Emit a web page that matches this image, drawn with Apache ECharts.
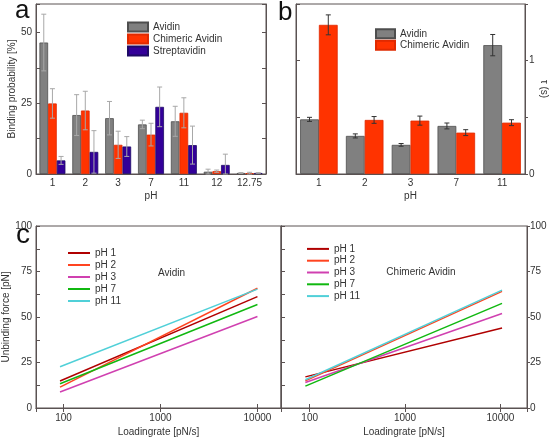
<!DOCTYPE html>
<html><head><meta charset="utf-8">
<script src="https://cdn.jsdelivr.net/npm/echarts@6/dist/echarts.min.js"></script>
<style>html,body{margin:0;padding:0;background:#fff}#c{width:550px;height:441px}</style>
</head><body><div id="c"></div><script>
// ---- Panel a data ----
const catsA = ['1','2','3','7','11','12','12.75'];
const avidinA = [46.4, 20.8, 19.7, 17.5, 18.6, 0.8, 0.35];
const avidinAErr = [10.0, 7.2, 5.9, 1.5, 5.3, 0.9, 0.15];
const chimericA = [24.9, 22.4, 10.3, 13.9, 21.6, 1.0, 0.3];
const chimericAErr = [5.2, 6.8, 4.8, 4.0, 5.3, 0.4, 0.3];
const streptA = [4.8, 7.8, 9.7, 23.7, 10.2, 3.2, 0.35];
const streptAErr = [1.4, 7.5, 3.5, 7.0, 6.7, 3.8, 0.1];
const yTicksA = [0, 25, 50];
// ---- Panel b data ----
const catsB = ['1','2','3','7','11'];
const avidinB = [0.482, 0.336, 0.257, 0.424, 1.137];
const avidinBErr = [0.018, 0.018, 0.012, 0.026, 0.094];
const chimericB = [1.316, 0.477, 0.471, 0.365, 0.453];
const chimericBErr = [0.088, 0.03, 0.04, 0.026, 0.026];
const yTicksB = [0, 1];
// ---- Panel c data ----
const phNames = ['pH 1','pH 2','pH 3','pH 7','pH 11'];
const rateAvidin = [92, 10000];
const forceAvidin = [[14.8, 61.2],[11.5, 65.8],[8.8, 50.3],[13.3, 56.9],[22.7, 65.3]];
const rateChimeric = [90, 10400];
const forceChimeric = [[17.1, 44.0],[14.9, 64.1],[14.0, 51.9],[12.0, 57.5],[15.5, 64.8]];
const xTicksC = [100, 1000, 10000];
const yTicksC = [0, 25, 50, 75, 100];

const frame = '#5a5252', txt = '#333', font = 'Liberation Sans, Arial, sans-serif';
const barColors = ['#808080', '#ff3300', '#330099'];
const barBorders = ['#4e4e4e', '#e02a00', '#1e0a66'];
const lineColors = ['#b00000', '#ff4420', '#d040b0', '#10b810', '#50d0d8'];
const ts = (e) => Object.assign({color: txt, fontFamily: font, fontSize: 10}, e || {});

function errRender(n, idx, gap, color, cap) {
  return function (params, api) {
    const cat = api.value(0), v = api.value(1), e = api.value(2);
    const band = api.size([1, 0])[0];
    const bw = band * (1 - gap) / n;
    const c = api.coord([cat, v]);
    const x = c[0] + (idx - (n - 1) / 2) * bw;
    const t = api.coord([cat, v + e])[1];
    const b = api.coord([cat, Math.max(0, v - e)])[1];
    const st = {stroke: color, lineWidth: 1};
    return {type: 'group', children: [
      {type: 'line', shape: {x1: x, y1: t, x2: x, y2: b}, style: st},
      {type: 'line', shape: {x1: x - cap, y1: t, x2: x + cap, y2: t}, style: st},
      {type: 'line', shape: {x1: x - cap, y1: b, x2: x + cap, y2: b}, style: st}
    ]};
  };
}
const axl = {show: true, lineStyle: {color: frame, width: 1}};
const noSplit = {show: false};

const option = {
  animation: false,
  grid: [
    {left: 36, top: 4, width: 230, height: 170, show: true, borderColor: frame, borderWidth: 1},
    {left: 296, top: 4, width: 231, height: 170, show: true, borderColor: frame, borderWidth: 1},
    {left: 36, top: 226, width: 245, height: 182, show: true, borderColor: frame, borderWidth: 1},
    {left: 281, top: 226, width: 246, height: 182, show: true, borderColor: frame, borderWidth: 1}
  ],
  xAxis: [
    {gridIndex: 0, type: 'category', data: catsA, axisLine: axl, axisTick: {show: false},
     axisLabel: ts({margin: 4}), name: 'pH', nameLocation: 'middle', nameGap: 17, nameTextStyle: ts()},
    {gridIndex: 1, type: 'category', data: catsB, axisLine: axl, axisTick: {show: false},
     axisLabel: ts({margin: 4}), name: 'pH', nameLocation: 'middle', nameGap: 17, nameTextStyle: ts()},
    {gridIndex: 2, type: 'log', logBase: 10, min: 52, max: 17500, axisLine: axl, splitLine: noSplit,
     axisTick: {show: true, inside: true, length: 4, lineStyle: {color: frame}},
     axisLabel: ts({margin: 5, formatter: v => { const r = Math.round(v); return xTicksC.includes(r) ? String(r) : ''; }}),
     name: 'Loadingrate [pN/s]', nameLocation: 'middle', nameGap: 19, nameTextStyle: ts()},
    {gridIndex: 2, type: 'log', logBase: 10, min: 52, max: 17500, position: 'top', axisLine: axl, splitLine: noSplit,
     axisTick: {show: true, inside: true, length: 4, lineStyle: {color: frame}}, axisLabel: {show: false}},
    {gridIndex: 3, type: 'log', logBase: 10, min: 50, max: 19000, axisLine: axl, splitLine: noSplit,
     axisTick: {show: true, inside: true, length: 4, lineStyle: {color: frame}},
     axisLabel: ts({margin: 5, formatter: v => { const r = Math.round(v); return xTicksC.includes(r) ? String(r) : ''; }}),
     name: 'Loadingrate [pN/s]', nameLocation: 'middle', nameGap: 19, nameTextStyle: ts()},
    {gridIndex: 3, type: 'log', logBase: 10, min: 50, max: 19000, position: 'top', axisLine: axl, splitLine: noSplit,
     axisTick: {show: true, inside: true, length: 4, lineStyle: {color: frame}}, axisLabel: {show: false}}
  ],
  yAxis: [
    {gridIndex: 0, type: 'value', min: 0, max: 60, interval: 12.5, position: 'left', axisLine: axl, splitLine: noSplit,
     axisTick: {show: true, inside: true, length: 4, lineStyle: {color: frame}},
     axisLabel: ts({margin: 4, formatter: v => yTicksA.includes(v) ? String(v) : ''}),
     name: 'Binding probability [%]', nameLocation: 'middle', nameGap: 19, nameTextStyle: ts()},
    {gridIndex: 0, type: 'value', min: 0, max: 60, interval: 12.5, position: 'right', axisLine: axl, splitLine: noSplit,
     axisTick: {show: true, inside: true, length: 4, lineStyle: {color: frame}}, axisLabel: {show: false}},
    {gridIndex: 1, type: 'value', min: 0, max: 1.5, interval: 0.5, position: 'left', axisLine: axl, splitLine: noSplit,
     axisTick: {show: true, inside: true, length: 4, lineStyle: {color: frame}}, axisLabel: {show: false}},
    {gridIndex: 1, type: 'value', min: 0, max: 1.5, interval: 0.5, position: 'right', axisLine: axl, splitLine: noSplit,
     axisTick: {show: true, inside: false, length: 3, lineStyle: {color: frame}},
     axisLabel: ts({margin: 4, formatter: v => yTicksB.includes(v) ? String(v) : ''}),
     name: 'τ (s)', nameLocation: 'middle', nameGap: 14, nameRotate: -90, nameTextStyle: ts()},
    {gridIndex: 2, type: 'value', min: 0, max: 100, interval: 12.5, position: 'left', axisLine: axl, splitLine: noSplit,
     axisTick: {show: true, inside: true, length: 4, lineStyle: {color: frame}},
     axisLabel: ts({margin: 4, formatter: v => yTicksC.includes(v) ? String(v) : ''}),
     name: 'Unbinding force [pN]', nameLocation: 'middle', nameGap: 21, nameTextStyle: ts()},
    {gridIndex: 2, type: 'value', min: 0, max: 100, interval: 12.5, position: 'right', axisLine: axl, splitLine: noSplit,
     axisTick: {show: false}, axisLabel: {show: false}},
    {gridIndex: 3, type: 'value', min: 0, max: 100, interval: 12.5, position: 'left', axisLine: axl, splitLine: noSplit,
     axisTick: {show: true, inside: true, length: 4, lineStyle: {color: frame}}, axisLabel: {show: false}},
    {gridIndex: 3, type: 'value', min: 0, max: 100, interval: 25, position: 'right', axisLine: axl, splitLine: noSplit,
     axisTick: {show: true, inside: false, length: 3, lineStyle: {color: frame}},
     axisLabel: ts({margin: 3, formatter: v => yTicksC.includes(v) ? String(v) : ''})}
  ],
  legend: [
    {data: ['Avidin', 'Chimeric Avidin', 'Streptavidin'], orient: 'vertical', left: 127, top: 21, icon: 'rect',
     itemWidth: 20, itemHeight: 9, itemGap: 0, selectedMode: false, padding: 0,
     textStyle: ts({lineHeight: 12, fontSize: 10})},
    {data: ['Avidin', 'Chimeric Avidin'], orient: 'vertical', left: 375, top: 28, icon: 'rect',
     itemWidth: 19, itemHeight: 9, itemGap: 0, selectedMode: false, padding: 0,
     textStyle: ts({lineHeight: 11.5, fontSize: 10})},
    {data: phNames, orient: 'vertical', left: 68, top: 247, icon: 'rect',
     itemWidth: 22, itemHeight: 2, itemGap: 0, selectedMode: false, padding: 0,
     textStyle: ts({lineHeight: 12, fontSize: 10})},
    {data: phNames, orient: 'vertical', left: 307, top: 243, icon: 'rect',
     itemWidth: 22, itemHeight: 2, itemGap: 0, selectedMode: false, padding: 0,
     textStyle: ts({lineHeight: 11.8, fontSize: 10})}
  ],
  graphic: [
    {type: 'text', x: 15, y: 11, style: {text: 'a', fontSize: 26, fontFamily: font, fill: '#111', verticalAlign: 'middle'}},
    {type: 'text', x: 278, y: 12.6, style: {text: 'b', fontSize: 26, fontFamily: font, fill: '#111', verticalAlign: 'middle'}},
    {type: 'text', x: 16, y: 235, style: {text: 'c', fontSize: 28, fontFamily: font, fill: '#111', verticalAlign: 'middle'}},
    {type: 'text', x: 171.5, y: 273, style: {text: 'Avidin', fontSize: 10, fontFamily: font, fill: txt, align: 'center', verticalAlign: 'middle'}},
    {type: 'text', x: 421, y: 272.7, style: {text: 'Chimeric Avidin', fontSize: 10, fontFamily: font, fill: txt, align: 'center', verticalAlign: 'middle'}}
  ],
  series: []
};

// Panel a bars + error bars
[[avidinA, avidinAErr, 'Avidin'], [chimericA, chimericAErr, 'Chimeric Avidin'], [streptA, streptAErr, 'Streptavidin']]
  .forEach(([vals, errs, name], i) => {
    option.series.push({type: 'bar', name, xAxisIndex: 0, yAxisIndex: 0, data: vals,
      barGap: '0%', barCategoryGap: '21%',
      itemStyle: {color: barColors[i], borderColor: barBorders[i], borderWidth: 0.8}});
  });
[[avidinA, avidinAErr], [chimericA, chimericAErr], [streptA, streptAErr]].forEach(([vals, errs], i) => {
  option.series.push({type: 'custom', xAxisIndex: 0, yAxisIndex: 0, z: 5,
    renderItem: errRender(3, i, 0.21, '#a8a8a8', 2.5),
    encode: {x: 0, y: 1}, data: vals.map((v, k) => [k, v, errs[k]])});
});
// Panel b bars + error bars
[[avidinB, avidinBErr, 'Avidin'], [chimericB, chimericBErr, 'Chimeric Avidin']].forEach(([vals, errs, name], i) => {
  option.series.push({type: 'bar', name, xAxisIndex: 1, yAxisIndex: 3, data: vals,
    barGap: '0%', barCategoryGap: '18%',
    itemStyle: {color: barColors[i], borderColor: barBorders[i], borderWidth: 0.8}});
});
[[avidinB, avidinBErr], [chimericB, chimericBErr]].forEach(([vals, errs], i) => {
  option.series.push({type: 'custom', xAxisIndex: 1, yAxisIndex: 3, z: 5,
    renderItem: errRender(2, i, 0.18, '#333', 2.5),
    encode: {x: 0, y: 1}, data: vals.map((v, k) => [k, v, errs[k]])});
});
// Panel c lines
phNames.forEach((name, i) => {
  option.series.push({type: 'line', name, xAxisIndex: 2, yAxisIndex: 4, symbol: 'none',
    lineStyle: {color: lineColors[i], width: 1.5}, itemStyle: {color: lineColors[i]},
    data: rateAvidin.map((r, k) => [r, forceAvidin[i][k]])});
  option.series.push({type: 'line', name, xAxisIndex: 4, yAxisIndex: 7, symbol: 'none',
    lineStyle: {color: lineColors[i], width: 1.5}, itemStyle: {color: lineColors[i]},
    data: rateChimeric.map((r, k) => [r, forceChimeric[i][k]])});
});

const chart = echarts.init(document.getElementById('c'), null, {renderer: 'canvas'});
chart.setOption(option);
</script></body></html>
